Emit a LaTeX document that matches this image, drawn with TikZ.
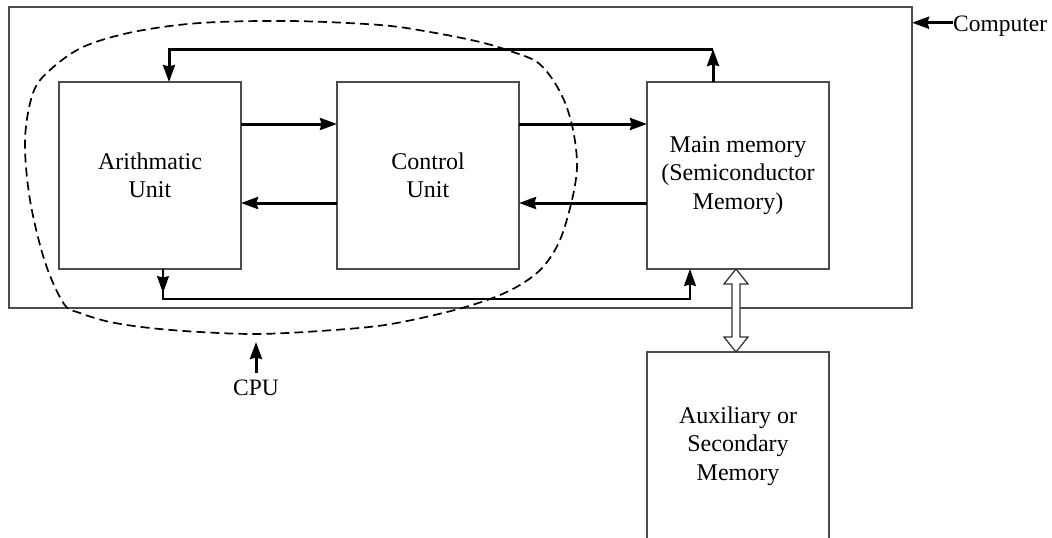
\documentclass[tikz,border=0pt]{standalone}
\usepackage{fontspec}
\setmainfont{Liberation Serif}
\usetikzlibrary{positioning,arrows.meta}

\begin{document}
\begin{tikzpicture}[x=1pt,y=-1pt,
  >={Stealth[length=17pt,width=12pt,inset=1.5pt]},
  unit/.style={draw=black!70,line width=1.3pt,minimum width=182pt,minimum height=187pt,
    inner sep=0pt,outer sep=0pt,align=center,font=\fontsize{24}{28.5}\selectfont},
  bus/.style={line width=3pt,->},
  wire/.style={line width=1.3pt,->},
  lbl/.style={inner sep=0pt,font=\fontsize{23.5}{28}\selectfont}]
\useasboundingbox (0,0) rectangle (1052,538);

% computer frame
\node[draw=black!70,line width=1.3pt,minimum width=903pt,minimum height=301pt,inner sep=0pt,outer sep=0pt] (pc) at (460.5,157.5) {};

\node[unit] (au) at (150,175.5) {Arithmatic\\Unit};
\node[unit,right=96pt of au] (cu) {Control\\Unit};
\node[unit,right=128pt of cu] (mm) {Main memory\\(Semiconductor\\Memory)};
\node[unit,minimum height=188pt,below=83pt of mm] (aux) {Auxiliary or\\Secondary\\Memory};

% data paths
\draw[bus] ([yshift=51.5pt]au.east) -- ([yshift=51.5pt]cu.west);
\draw[bus] ([yshift=-27.5pt]cu.west) -- ([yshift=-27.5pt]au.east);
\draw[bus] ([yshift=51.5pt]cu.east) -- ([yshift=51.5pt]mm.west);
\draw[bus] ([yshift=-27.5pt]mm.west) -- ([yshift=-27.5pt]cu.east);

\path ([xshift=-25pt]mm.north) ++(0,-33) coordinate (loop);
\draw[bus] ([xshift=-25pt]mm.north) -- (loop);
\draw[bus] (loop) -| ([xshift=19pt]au.north);

\path ([xshift=-48pt]mm.south) ++(0,30) coordinate (bot);
\draw[wire] ([xshift=13pt]au.south) -- ++(0,24);
\draw[wire] ([xshift=13pt]au.south) |- (bot) -- ([xshift=-48pt]mm.south);

% memory <-> auxiliary
\draw[draw=black!80,line width=1.2pt,fill=white] ([xshift=-2pt]mm.south) -- ++(12,15) -- ++(-8,0)
  -- ++(0,53) -- ++(8,0) -- ++(-12,15) -- ++(-12,-15) -- ++(8,0) -- ++(0,-53) -- ++(-8,0) -- cycle;

% CPU boundary
\draw[line width=1.7pt,dash pattern=on 9pt off 5pt] plot[smooth cycle,tension=0.55] coordinates {
  (200,23) (290,21) (380,25) (430,32) (480,42) (513,52) (537,62) (553,80) (566,105)
  (574,135) (577,167) (572,200) (560,240) (543,267) (520,285) (490,299) (447,312)
  (385,325) (320,331) (257,334) (200,332) (150,328) (110,322) (80,313) (64,304)
  (45,262) (30,200) (25,140) (33,93) (50,70) (83,47) (133,32)};

\node[lbl,anchor=base] (cpu) at (256,395) {CPU};
\coordinate (cpuTip) at (257,342);
\draw[bus] ([yshift=6pt]cpu.north) -- (cpu.north |- cpuTip);

\node[lbl,anchor=base west] (comp) at (953,31) {Computer};
\draw[bus] ([yshift=3pt]comp.west) -- ([yshift=3pt]comp.west -| pc.east);

\end{tikzpicture}
\end{document}
